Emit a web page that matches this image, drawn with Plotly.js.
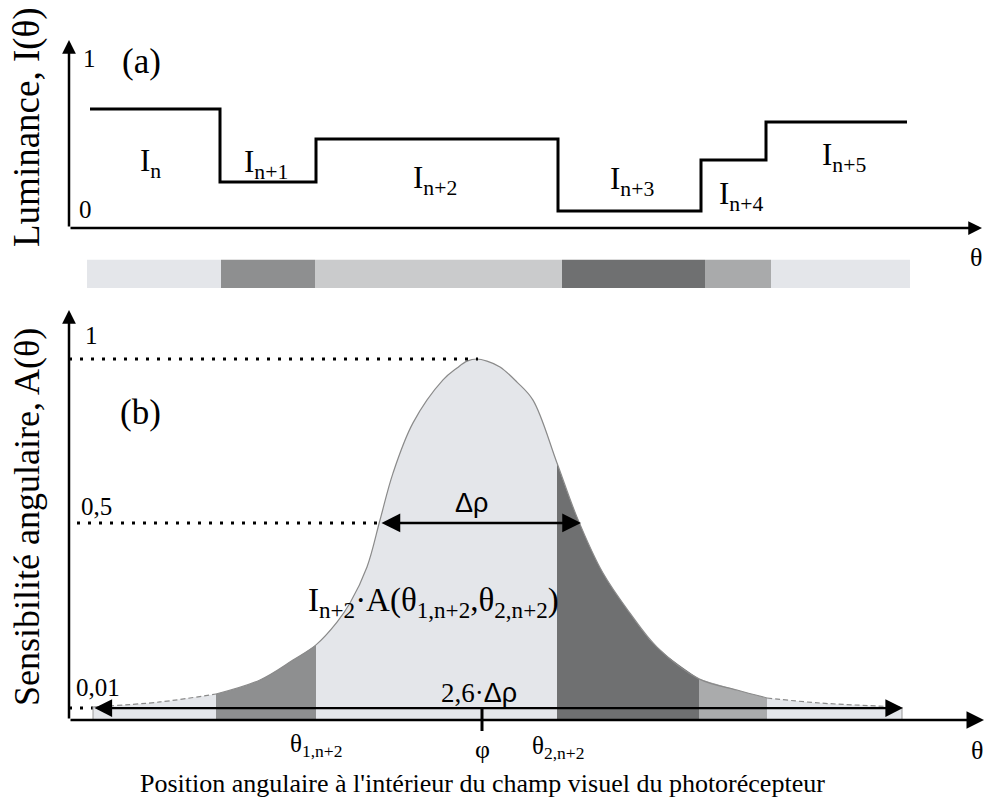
<!DOCTYPE html>
<html>
<head>
<meta charset="utf-8">
<script src="https://cdn.plot.ly/plotly-3.0.1.min.js"></script>
<style>html,body{margin:0;padding:0;background:#fff;}#chart{width:984px;height:801px;}</style>
</head>
<body>
<div id="chart"></div>
<script>
// ---------- DATA (theta in arbitrary angular units, 0 = origin) ----------
// (a) luminance step profile
const stepEdges  = [21, 151, 247, 489, 632, 697, 838];
const stepLevels = [0.696, 0.269, 0.520, 0.099, 0.398, 0.620];
const stepLabels = ['I<sub>n</sub>', 'I<sub>n+1</sub>', 'I<sub>n+2</sub>', 'I<sub>n+3</sub>', 'I<sub>n+4</sub>', 'I<sub>n+5</sub>'];

// grey-level strip
const stripEdges  = [18, 152, 246, 493, 636, 702, 841];
const stripColors = ['#e4e6ea', '#8e8f90', '#cacbcc', '#6f7071', '#a9aaab', '#e4e6ea'];

// (b) angular sensitivity curve
const curveTheta = [24, 91, 147, 191, 224, 247, 268, 281, 298, 311, 324, 344, 374, 388, 398, 408,
                    418, 431, 448, 464, 488, 508, 534, 561, 588, 630, 668, 698, 751, 833];
const curveA     = [0.036, 0.050, 0.072, 0.111, 0.166, 0.208, 0.271, 0.324, 0.424, 0.554, 0.684, 0.823, 0.942, 0.975, 0.994, 1.000,
                    0.994, 0.978, 0.936, 0.886, 0.712, 0.562, 0.407, 0.296, 0.202, 0.114, 0.083, 0.061, 0.047, 0.036];
const fillEdges  = [24, 147, 247, 488, 630, 698, 833];
const fillColors = ['#e4e6ea', '#8e8f90', '#e4e6ea', '#6f7071', '#aaabac', '#e4e6ea'];

const phi = 413;            // centre of receptive field
const halfLevel = 0.546;    // "0,5" guide
const lowLevel = 0.033;     // "0,01" guide
const dRho = [311, 512];    // Δρ arrow ends
const span26 = [24, 834];   // 2,6·Δρ arrow ends

// ---------- helpers for layout positions ----------
const L = 69, PW = 915, PH = 720;
const xp = px => (px - L) / PW;          // pixel x -> paper x
const yp = py => (PH - py) / PH;         // pixel y -> paper y
const SERIF = 'Liberation Serif, Times New Roman, serif';
const SANS = 'Liberation Sans, Arial, sans-serif';

const traces = [];

// (a) step line
traces.push({
  x: stepEdges, y: stepLevels.concat([stepLevels[stepLevels.length - 1]]),
  xaxis: 'x', yaxis: 'y', mode: 'lines', line: {shape: 'hv', color: '#000', width: 3},
  hoverinfo: 'skip', showlegend: false
});

// grey strip as horizontal bars
traces.push({
  type: 'bar', orientation: 'h', xaxis: 'x', yaxis: 'y2',
  y: stripColors.map(() => 0),
  base: stripEdges.slice(0, -1),
  x: stripEdges.slice(1).map((e, i) => e - stripEdges[i]),
  width: 1, marker: {color: stripColors, line: {width: 0}},
  hoverinfo: 'skip', showlegend: false
});

function curveSlice(a, b) {
  const xs = [], ys = [];
  curveTheta.forEach((t, i) => { if (t >= a && t <= b) { xs.push(t); ys.push(curveA[i]); } });
  return {xs, ys};
}
// (b) filled segments under the curve
for (let s = 0; s < fillColors.length; s++) {
  const c = curveSlice(fillEdges[s], fillEdges[s + 1]);
  traces.push({
    x: c.xs, y: c.ys, xaxis: 'x', yaxis: 'y3', mode: 'lines', fill: 'tozeroy',
    fillcolor: fillColors[s], line: {width: 0, shape: 'spline', smoothing: 1, color: fillColors[s]},
    hoverinfo: 'skip', showlegend: false
  });
}
// curve outline: dashed tails, solid core
[[fillEdges[0], fillEdges[1], 'dash'], [fillEdges[1], fillEdges[5], 'solid'], [fillEdges[5], fillEdges[6], 'dash']].forEach(([a, b, d]) => {
  const c = curveSlice(a, b);
  traces.push({
    x: c.xs, y: c.ys, xaxis: 'x', yaxis: 'y3', mode: 'lines',
    line: {width: 1.2, color: '#8a8a8a', shape: 'spline', smoothing: 1, dash: d === 'dash' ? '5px,3px' : 'solid'},
    hoverinfo: 'skip', showlegend: false
  });
});

// ---------- shapes ----------
const shapes = [
  // dotted guides
  {type: 'line', xref: 'x', yref: 'y3', x0: 0, x1: phi - 4, y0: 1, y1: 1, line: {color: '#000', width: 3, dash: '3px,8px'}},
  {type: 'line', xref: 'x', yref: 'y3', x0: 8, x1: dRho[0], y0: halfLevel, y1: halfLevel, line: {color: '#000', width: 3, dash: '3px,8px'}},
  {type: 'line', xref: 'x', yref: 'y3', x0: 0, x1: span26[0], y0: lowLevel, y1: lowLevel, line: {color: '#000', width: 3, dash: '3px,8px'}},
  // phi tick
  {type: 'line', xref: 'x', yref: 'paper', x0: phi, x1: phi, y0: yp(708), y1: yp(731), line: {color: '#000', width: 3}},
  // fill end borders
  {type: 'line', xref: 'x', yref: 'y3', x0: fillEdges[0], x1: fillEdges[0], y0: 0, y1: curveA[0], line: {color: '#9a9a9a', width: 1}},
  {type: 'line', xref: 'x', yref: 'y3', x0: fillEdges[6], x1: fillEdges[6], y0: 0, y1: curveA[curveA.length - 1], line: {color: '#9a9a9a', width: 1}}
];

// ---------- annotations ----------
const ann = [];
function arrow(x, y, ax, ay, yref, opts) {
  ann.push(Object.assign({
    x: x, y: y, ax: ax, ay: ay, xref: 'x', yref: yref, axref: 'x', ayref: yref,
    text: '', showarrow: true, arrowhead: 2, arrowsize: 1, arrowwidth: 2.5, arrowcolor: '#000', standoff: 0, startstandoff: 0
  }, opts || {}));
}
// axes with arrows
arrow(0, 1.10, 0, 0, 'y', {arrowsize: 1.1});
arrow(913, 0, 0, 0, 'y', {arrowsize: 1.1});
arrow(0, 1.136, 0, 0, 'y3', {arrowsize: 1.1});
arrow(915, 0, 0, 0, 'y3', {arrowsize: 1.4});
// Δρ and 2,6·Δρ double arrows
arrow(dRho[1], halfLevel, dRho[0], halfLevel, 'y3', {arrowside: 'end+start', arrowsize: 1.5, arrowwidth: 2.5});
arrow(span26[1], lowLevel, span26[0], lowLevel, 'y3', {arrowside: 'end+start', arrowsize: 1.6, arrowwidth: 2.2});

function txt(text, px, py, size, family, extra) {
  ann.push(Object.assign({
    text: text, x: xp(px), y: yp(py), xref: 'paper', yref: 'paper', showarrow: false,
    xanchor: 'center', yanchor: 'middle', font: {family: family || SERIF, size: size, color: '#000'}
  }, extra || {}));
}
// axis titles
txt('Luminance, I(θ)', 27, 127, 37, SERIF, {textangle: -90});
txt('Sensibilité angulaire, A(θ)', 27, 517, 36, SERIF, {textangle: -90});
txt("Position angulaire à l'intérieur du champ visuel du photorécepteur", 482, 784, 26);
// panel a
txt('(a)', 141, 61, 35);
txt('1', 89, 58, 25);
txt('0', 85, 210, 25);
const stepLabelPos = [[150, 163], [266, 164], [435, 180], [632, 181], [741, 196], [844, 157]];
stepLabels.forEach((s, i) => txt(s, stepLabelPos[i][0], stepLabelPos[i][1], 31));
txt('θ', 976, 258, 26);
// panel b
txt('(b)', 140, 412, 35);
txt('1', 91, 335, 25);
txt('0,5', 96, 507, 25);
txt('0,01', 98, 687, 25);
txt('Δρ', 471, 503, 27, SANS);
txt('I<sub>n+2</sub>·A(θ<sub>1,n+2</sub>,θ<sub>2,n+2</sub>)', 433, 602, 33);
txt('2,6·<span style="font-family:Liberation Sans">Δρ</span>', 479, 693, 27);
txt('θ<sub>1,n+2</sub>', 316, 745, 25);
txt('φ', 482, 749, 26);
txt('θ<sub>2,n+2</sub>', 558, 747, 25);
txt('θ', 977, 750, 26);

const layout = {
  width: 984, height: 801,
  margin: {l: L, r: 0, t: 0, b: 801 - PH, pad: 0},
  paper_bgcolor: '#fff', plot_bgcolor: 'rgba(0,0,0,0)',
  showlegend: false, barmode: 'overlay', hovermode: false,
  xaxis: {domain: [0, 1], range: [0, PW], visible: false, fixedrange: true},
  yaxis: {domain: [yp(228), 1], range: [0, 228 / 171], visible: false, anchor: 'x'},
  yaxis2: {domain: [yp(288), yp(259.5)], range: [-0.5, 0.5], visible: false, anchor: 'x'},
  yaxis3: {domain: [0, yp(300)], range: [0, 420 / 361], visible: false, anchor: 'x'},
  shapes: shapes,
  annotations: ann
};

Plotly.newPlot('chart', traces, layout, {staticPlot: true, displayModeBar: false});
</script>
</body>
</html>
